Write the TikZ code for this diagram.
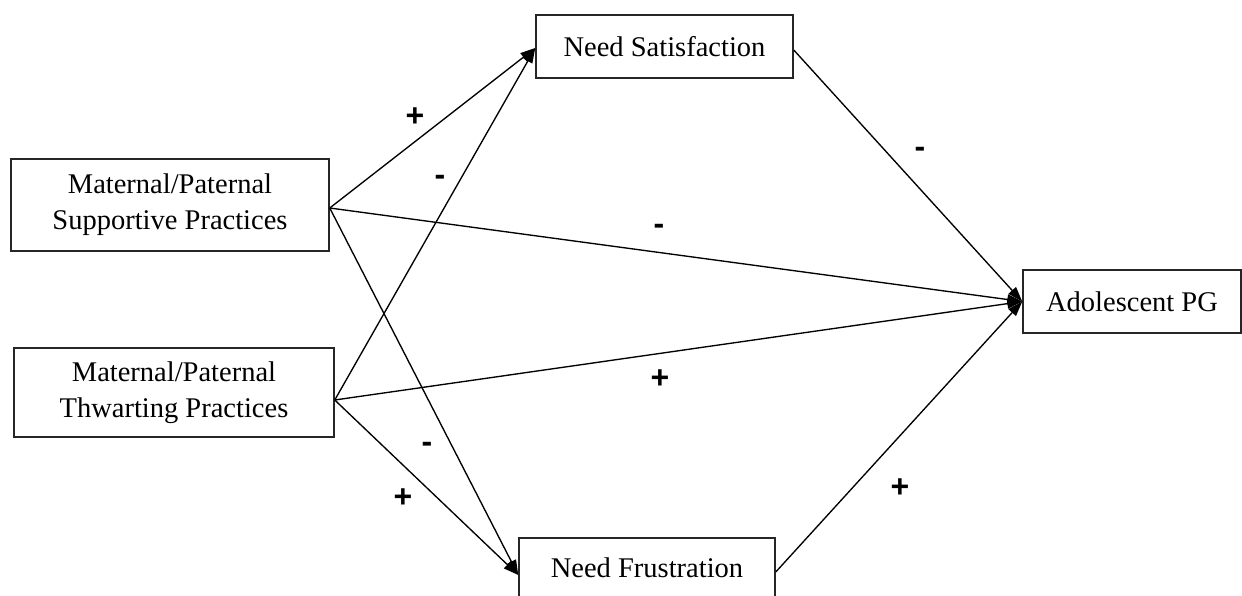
\documentclass[tikz,border=0pt]{standalone}
\usepackage{fontspec}
\setmainfont{Liberation Serif}
\newfontfamily\signfont{Liberation Sans}
\usetikzlibrary{arrows.meta}

\tikzset{
  varbox/.style={draw=black!85, line width=1.5pt, rectangle, inner sep=0pt,
    align=center, font=\fontsize{28.5}{36}\selectfont},
  path/.style={line width=1.35pt, -{Triangle[length=15pt,width=10pt]}},
  sign/.style={font=\signfont\bfseries\fontsize{32}{32}\selectfont, inner sep=0pt}
}

\begin{document}
\begin{tikzpicture}[x=1pt, y=-1pt]
  \useasboundingbox (0,0) rectangle (1242,596);
  \clip (0,0) rectangle (1242,596);

  % variables
  \node[varbox, minimum width=257pt, minimum height=63pt] (ns) at (664.5,46.5) {Need Satisfaction};
  \node[varbox, minimum width=318pt, minimum height=92pt] (sp) at (170,205) {Maternal/Paternal\\Supportive Practices};
  \node[varbox, minimum width=320pt, minimum height=89pt] (tp) at (174,392.5) {Maternal/Paternal\\Thwarting Practices};
  \node[varbox, minimum width=218pt, minimum height=63pt] (pg) at (1132,301.5) {Adolescent PG};
  \node[varbox, minimum width=256pt, minimum height=60pt] (nf) at (647,568) {Need Frustration};

  % paths
  \draw[path] ([yshift=-3pt]sp.east) -- ([yshift=-1.5pt]ns.west);
  \draw[path] ([yshift=-7.5pt]tp.east) -- ([yshift=-1.5pt]ns.west);
  \draw[path] ([yshift=-3pt]sp.east) -- (pg.west);
  \draw[path] ([yshift=-7.5pt]tp.east) -- (pg.west);
  \draw[path] ([yshift=-3pt]sp.east) -- ([yshift=-7pt]nf.west);
  \draw[path] ([yshift=-7.5pt]tp.east) -- ([yshift=-7pt]nf.west);
  \draw[path] ([yshift=-3.5pt]ns.east) -- (pg.west);
  \draw[path] ([yshift=-4pt]nf.east) -- (pg.west);

  % signs of the effects
  \node[sign] (s1) at (415,117) {+};
  \node[sign] (s2) at (440,180) {-};
  \node[sign] (s3) at (659,229) {-};
  \node[sign] (s4) at (660,379) {+};
  \node[sign] (s5) at (427,447) {-};
  \node[sign] (s6) at (403,498) {+};
  \node[sign] (s7) at (920,152) {-};
  \node[sign] (s8) at (900,488) {+};
\end{tikzpicture}
\end{document}
